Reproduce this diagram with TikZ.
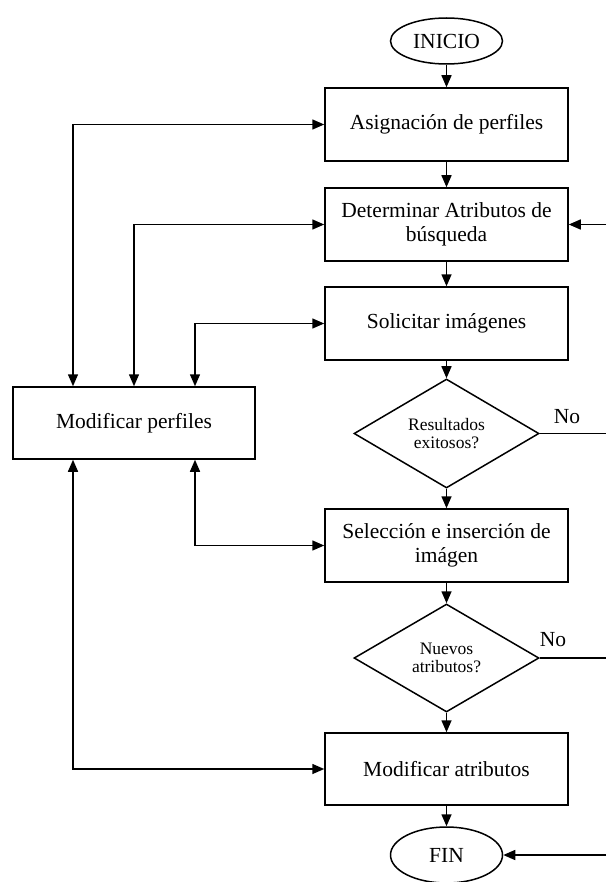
\documentclass[tikz,border=0pt]{standalone}
\usepackage{fontspec}
\setmainfont{Liberation Serif}
\usetikzlibrary{arrows.meta,shapes.geometric}
\begin{document}
\begin{tikzpicture}[x=1pt,y=-1pt,
  line width=1.5pt,
  every node/.style={font=\fontsize{21.5}{24}\selectfont},
  proc/.style={draw,rectangle,minimum width=243pt,minimum height=73pt,align=center,inner sep=2pt},
  term/.style={draw,ellipse,minimum width=112pt,inner sep=0pt},
  decision/.style={draw,diamond,aspect=1.7,minimum width=185pt,minimum height=109pt,inner sep=0pt,align=center,
    font=\fontsize{17.5}{18.5}\selectfont},
  arr/.style={-{Triangle[length=12pt,width=10pt]}},
  dbl/.style={{Triangle[length=12pt,width=10pt]}-{Triangle[length=12pt,width=10pt]}},
  lbl/.style={inner sep=0pt}
]
\useasboundingbox (0,0) rectangle (606,882);

% main column
\node[term,minimum height=46pt] (ini) at (446.5,41) {INICIO};
\node[proc] (b1) at (446.5,124.5) {Asignación de perfiles};
\node[proc] (b2) at (446.5,224.5) {Determinar Atributos de\\búsqueda};
\node[proc] (b3) at (446.5,323.5) {Solicitar imágenes};
\node[decision] (d1) at (446.5,433.5) {Resultados\\exitosos?};
\node[proc] (b4) at (446.5,545.5) {Selección e inserción de\\imágen};
\node[decision,minimum height=108pt] (d2) at (446.5,658) {Nuevos\\atributos?};
\node[proc,minimum height=72pt] (b5) at (446.5,769) {Modificar atributos};
\node[term,minimum height=56pt] (fin) at (446.5,855) {FIN};

% side box
\node[proc,minimum width=242pt,minimum height=72pt] (mod) at (134,423) {Modificar perfiles};

% guide columns
\coordinate (cA) at (73,0);
\coordinate (cB) at (134,0);
\coordinate (cC) at (195,0);
\coordinate (cR) at (606,0);

% flow
\draw[arr] (ini) -- (b1);
\draw[arr] (b1) -- (b2);
\draw[arr] (b2) -- (b3);
\draw[arr] (b3) -- (d1);
\draw[arr] (d1) -- (b4);
\draw[arr] (b4) -- (d2);
\draw[arr] (d2) -- (b5);
\draw[arr] (b5) -- (fin);

% links with the profile box
\draw[dbl] (cA |- mod.north) |- (b1.west);
\draw[dbl] (cB |- mod.north) |- (b2.west);
\draw[dbl] (cC |- mod.north) |- (b3.west);
\draw[dbl] (cC |- mod.south) |- (b4.west);
\draw[dbl] (cA |- mod.south) |- (b5.west);

% right-hand returns
\draw (d1.east) -- (d1.east -| cR);
\draw (d2.east) -- (d2.east -| cR);
\draw[arr] (b2.east -| cR) -- (b2.east);
\draw[arr] (fin.east -| cR) -- (fin.east);

% branch labels
\node[lbl] (no1) at (567,417) {No};
\node[lbl] (no2) at (553,640) {No};
\end{tikzpicture}
\end{document}
